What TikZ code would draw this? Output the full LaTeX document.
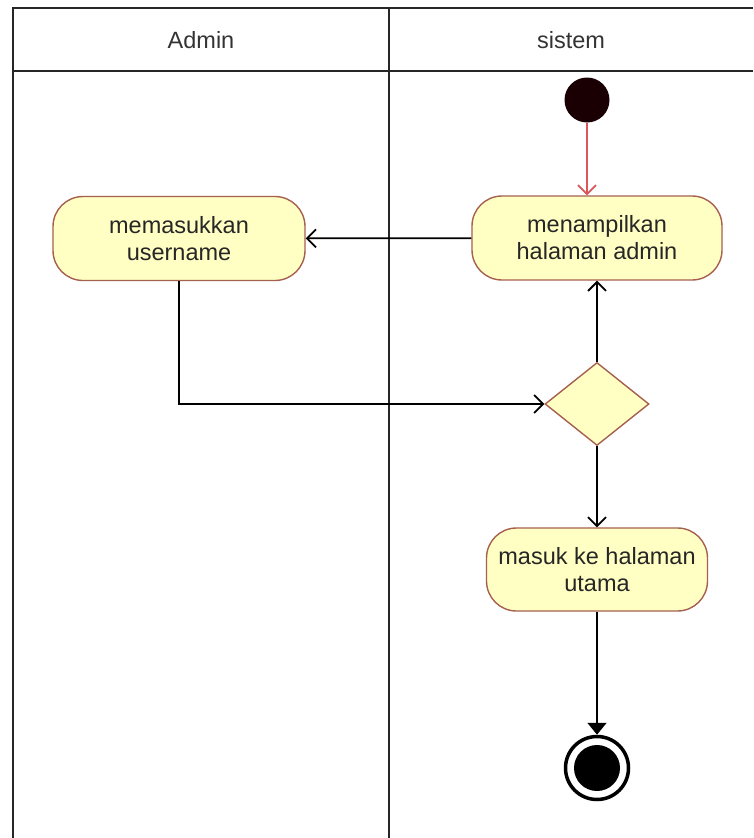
\documentclass[tikz,border=0pt]{standalone}
\usepackage{fontspec}
\setmainfont{Liberation Sans}
\usetikzlibrary{arrows.meta,shapes.geometric}
\definecolor{actfill}{HTML}{FFFFC3}
\definecolor{actline}{HTML}{A5604F}
\definecolor{flowred}{HTML}{D9565A}
\definecolor{startdot}{HTML}{1A0003}
\tikzstyle{action}=[rectangle, rounded corners=30pt, draw=actline, fill=actfill,
    line width=1.4pt, align=center, inner sep=1pt, text=black!85,
    font=\fontsize{23.5}{27}\selectfont, minimum width=250pt, minimum height=84pt]
\tikzstyle{lane}=[line width=2pt, black!85]
\newcommand{\action}{\node[action]}

\begin{document}
\begin{tikzpicture}[x=1pt, y=-1pt
    ,flow/.style={draw, line width=1.8pt, -{Straight Barb[length=9pt,width=18pt]}}
]
\useasboundingbox (0,0) rectangle (753,838);
% swimlanes
\coordinate (tl) at (13,8);
\coordinate (tr) at (753,8);
\coordinate (hl) at (13,71);
\coordinate (hr) at (753,71);
\coordinate (bl) at (13,838);
\coordinate (dt) at (389,8);
\coordinate (db) at (389,838);
\draw[lane] (tr) -- (tl) -- (bl);
\draw[lane] (hl) -- (hr);
\draw[lane] (dt) -- (db);
\node[font=\fontsize{23.5}{27}\selectfont, text=black!80] (admin) at (201,40) {Admin};
\node[font=\fontsize{23.5}{27}\selectfont, text=black!80] (sistem) at (571,40) {sistem};

% nodes
\node[circle, fill=startdot, inner sep=0pt, minimum size=45pt] (start) at (587,100) {};
\action (tampil) at (597,238) {menampilkan\\halaman admin};
\action[minimum width=252pt] (isi) at (179,238.5) {memasukkan\\username};
\node[diamond, draw=actline, fill=actfill, line width=1.4pt, inner sep=0pt,
    minimum width=104pt, minimum height=83pt] (cek) at (597,404) {};
\action[minimum width=221pt, minimum height=83pt] (utama) at (597,569.5) {masuk ke halaman\\utama};
\node[circle, draw=black, line width=3.5pt, inner sep=0pt, minimum size=63pt] (stop) at (597,768) {};
\node[circle, fill=black, inner sep=0pt, minimum size=46pt] (stopin) at (stop) {};
\coordinate (belok) at (isi.south |- cek.west);

% connectors
\draw[flow, flowred] (start) -- (start |- tampil.north);
\draw[flow] (tampil) -- (isi);
\draw[flow] (isi) -- (belok) -- (cek.west);
\draw[flow] (cek) -- (tampil);
\draw[flow] (cek) -- (utama);
\draw[line width=1.8pt, -{Triangle[length=12pt,width=19pt]}] (utama) -- (stop);
\end{tikzpicture}
\end{document}
